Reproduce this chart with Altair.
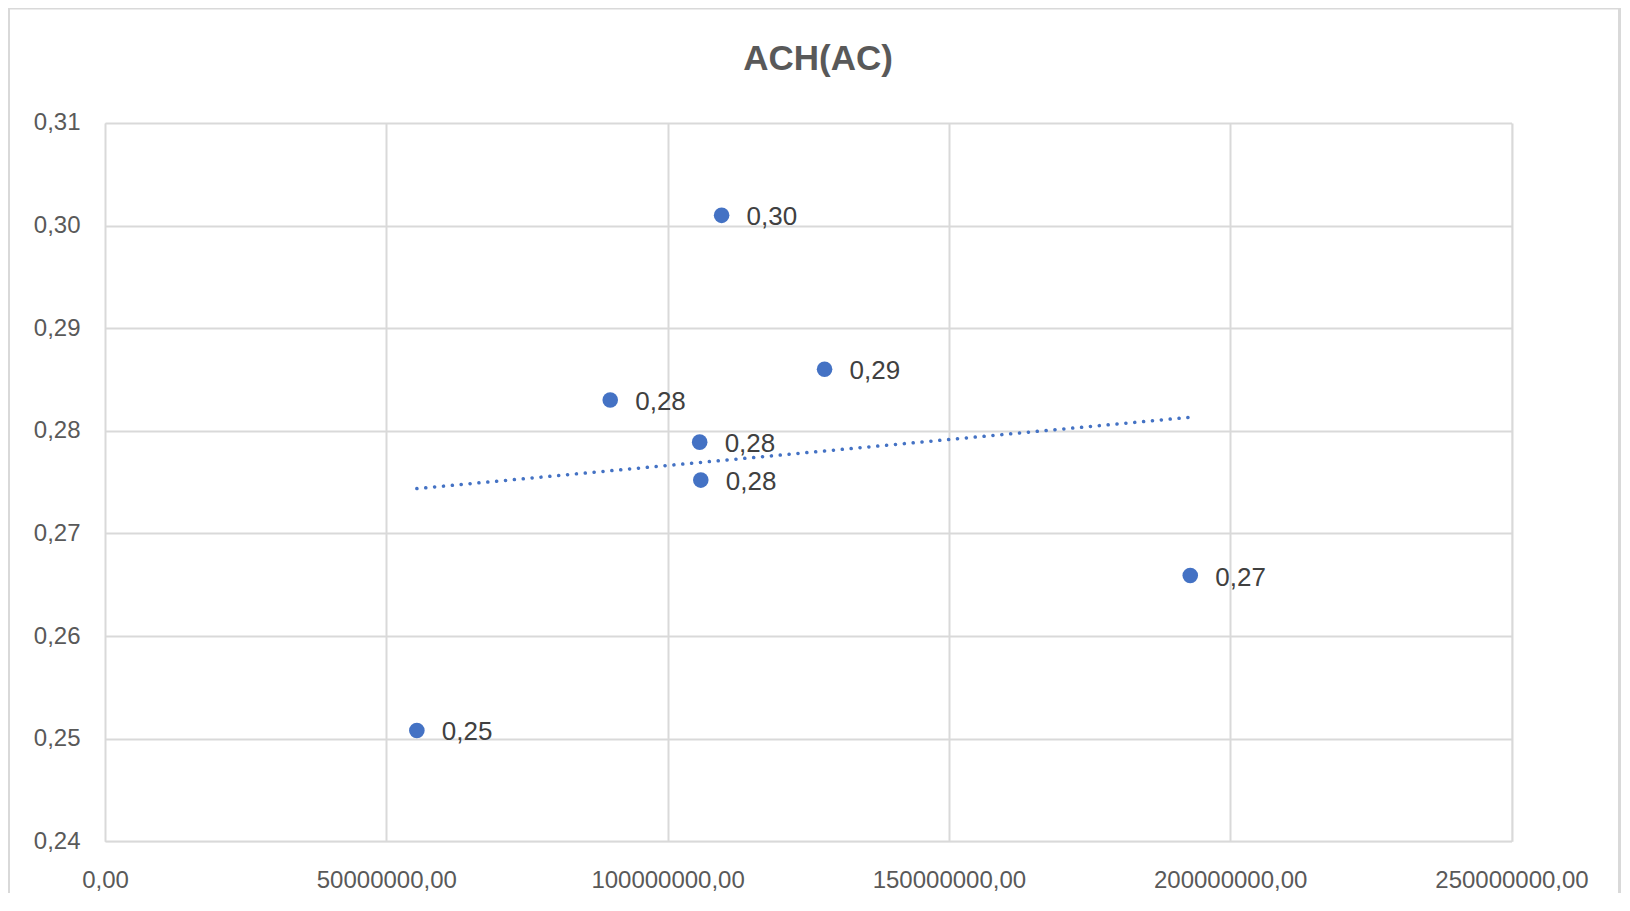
import altair as alt
import pandas as pd

# Data
x_values = [55430000, 89800000, 105700000, 105900000, 109600000, 127900000, 192900000]
y_values = [0.2508, 0.2830, 0.2789, 0.2752, 0.3010, 0.2860, 0.2659]

x_ticks = [0, 50000000, 100000000, 150000000, 200000000, 250000000]
y_ticks = [0.24, 0.25, 0.26, 0.27, 0.28, 0.29, 0.30, 0.31]

title_text = ["ACH(AC)"]

df = pd.DataFrame({"x": x_values, "y": y_values})

FONT = "Liberation Sans"
BLUE = "#4472C4"
GRID = "#D9D9D9"
LABEL = "#595959"

W = 1406.5
H = 718.3

comma_fmt = "replace(format(datum.value, '.2f'), '.', ',')"

x_enc = alt.X(
    "x:Q",
    scale=alt.Scale(domain=[x_ticks[0], x_ticks[-1]], nice=False, zero=False),
    axis=alt.Axis(
        values=x_ticks,
        labelExpr=comma_fmt,
        title=None,
        grid=True,
        gridColor=GRID,
        gridWidth=2,
        domain=False,
        ticks=False,
        tickSize=0,
        labelFont=FONT,
        labelFontSize=24,
        labelColor=LABEL,
        labelPadding=27,
        labelBaseline="top",
        labelFlush=False,
        labelOverlap=False,
    ),
)
y_enc = alt.Y(
    "y:Q",
    scale=alt.Scale(domain=[y_ticks[0], y_ticks[-1]], nice=False, zero=False),
    axis=alt.Axis(
        values=y_ticks,
        labelExpr=comma_fmt,
        title=None,
        grid=True,
        gridColor=GRID,
        gridWidth=2,
        domain=False,
        ticks=False,
        tickSize=0,
        labelFont=FONT,
        labelFontSize=24,
        labelColor=LABEL,
        labelPadding=25,
        labelBaseline="middle",
        labelFlush=False,
        labelOverlap=False,
    ),
)

base = alt.Chart(df)

points = base.mark_circle(size=243, color=BLUE, opacity=1).encode(x=x_enc, y=y_enc)

labels = base.transform_calculate(
    label="replace(format(datum.y, '.2f'), '.', ',')"
).mark_text(
    align="left", baseline="middle", dx=25, dy=2,
    font=FONT, fontSize=26, color="#404040"
).encode(x="x:Q", y="y:Q", text="label:N")

trend = base.transform_regression("x", "y").mark_line(
    color=BLUE, strokeWidth=3.5, strokeDash=[0.1, 8.8], strokeCap="round"
).encode(x="x:Q", y="y:Q")

frame_df = pd.DataFrame({"k": [0]})
frame = alt.Chart(frame_df).mark_rect(
    fill=None, stroke=GRID, strokeWidth=3, clip=False
).encode(
    x=alt.value(-96.5), x2=alt.value(1514.5),
    y=alt.value(-115), y2=alt.value(H + 100),
)

title_df = pd.DataFrame({"t": title_text})
title = alt.Chart(title_df).mark_text(
    font=FONT, fontSize=35, fontWeight="bold", color=LABEL,
    align="center", baseline="alphabetic", clip=False
).encode(
    x=alt.value(713), y=alt.value(-53), text="t:N"
)

chart = alt.layer(frame, trend, points, labels, title).properties(
    width=W,
    height=H,
    autosize=alt.AutoSizeParams(type="none"),
    padding={"left": 97, "top": 115, "right": 110, "bottom": 52},
).configure_view(stroke=None).configure(background="white")

chart.save("out.html", embed_options={"renderer": "svg", "actions": False})
